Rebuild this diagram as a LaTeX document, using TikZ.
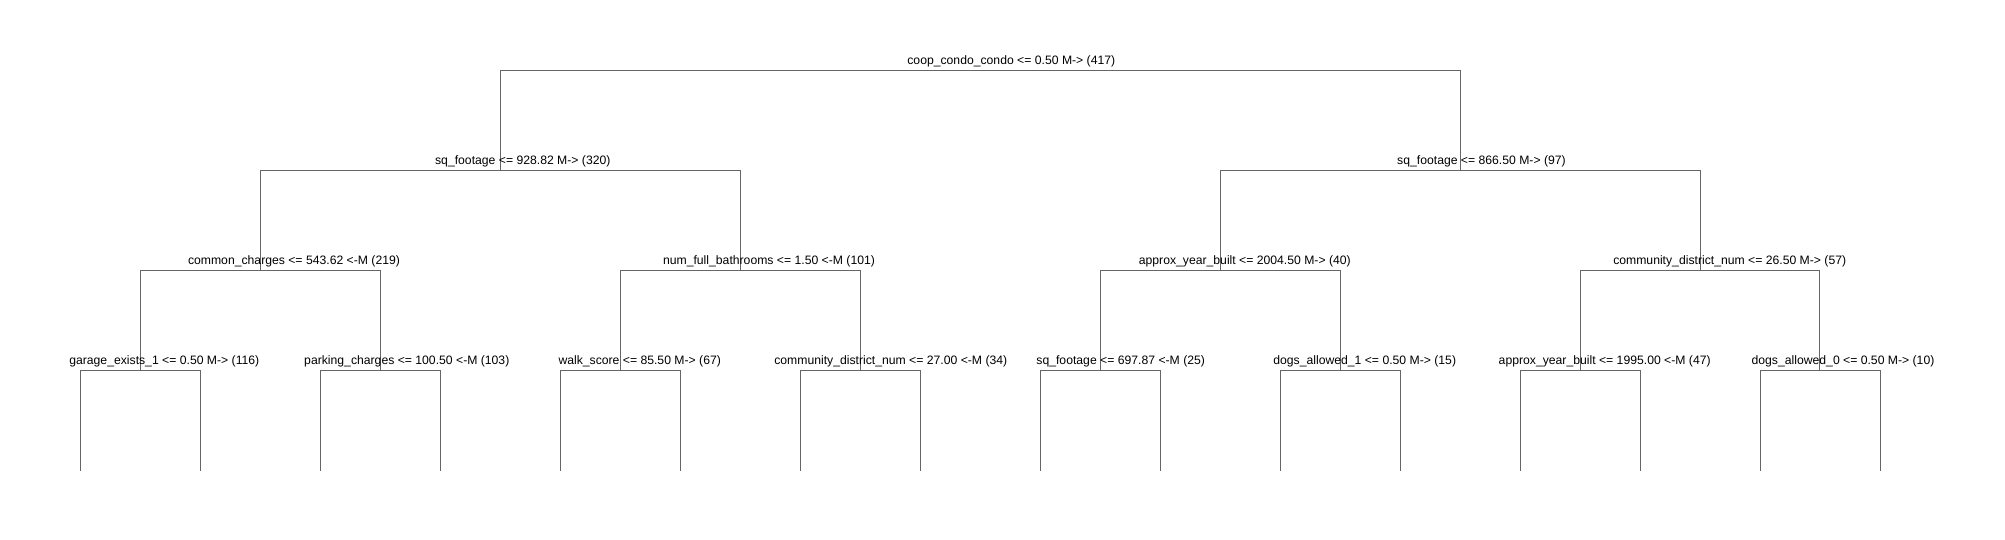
\documentclass[tikz,border=0pt]{standalone}
\usepackage{fontspec}
\setmainfont{Liberation Sans}
\usepackage{tikz}
\tikzstyle{node:split}=[coordinate]
\tikzstyle{node:leaf}=[coordinate]
\tikzstyle{node:test}=[anchor=base,inner sep=0pt,text=black,font=\fontsize{12.2pt}{14pt}\selectfont]
\tikzstyle{draw:branch}=[line width=1pt,draw=black!60]

\begin{document}
\begin{tikzpicture}[x=1pt,y=-1pt]
        \useasboundingbox (0,0) rectangle (2005,540);

        % Root split
        \node[node:split] (N1-1) at (980,70.7) {};

        % Second level (2 splits)
        \node[node:split] (N2-1) at (500,170.7) {};
        \node[node:split] (N2-2) at (1460,170.7) {};

        % Third level (4 splits)
        \node[node:split] (N3-1) at (260,270.7) {};
        \node[node:split] (N3-2) at (740,270.7) {};
        \node[node:split] (N3-3) at (1220,270.7) {};
        \node[node:split] (N3-4) at (1700,270.7) {};

        % Fourth level (8 splits)
        \node[node:split] (N4-1) at (140,370.7) {};
        \node[node:split] (N4-2) at (380,370.7) {};
        \node[node:split] (N4-3) at (620,370.7) {};
        \node[node:split] (N4-4) at (860,370.7) {};
        \node[node:split] (N4-5) at (1100,370.7) {};
        \node[node:split] (N4-6) at (1340,370.7) {};
        \node[node:split] (N4-7) at (1580,370.7) {};
        \node[node:split] (N4-8) at (1819,370.7) {};

        % Leaves (16 ends)
        \foreach \k in {1,...,16} {
                \node[node:leaf] (N5-\k) at ({80+120*(\k-1)},470.7) {};
            }

        % branches from root to second level
        \foreach \j in {1,2} {
                \draw[draw:branch] (N1-1) -| (N2-\j);
            }

        % branches from second to third level
        \foreach \i in {1,2}
        \foreach \j in {1,2} {
                \pgfmathtruncatemacro\k{2*(\i-1)+\j}
                \draw[draw:branch] (N2-\i) -| (N3-\k);
            }

        % branches from third to fourth level
        \foreach \i in {1,...,4}
        \foreach \j in {1,2} {
                \pgfmathtruncatemacro\k{2*(\i-1)+\j}
                \draw[draw:branch] (N3-\i) -| (N4-\k);
            }

        % branches from fourth level to leaves
        \foreach \i in {1,...,8}
        \foreach \j in {1,2} {
                \pgfmathtruncatemacro\k{2*(\i-1)+\j}
                \draw[draw:branch] (N4-\i) -| (N5-\k);
            }

        % Labels
        \node[node:test] (T1-1) at (1011.3,64.2) {coop\_condo\_condo <= 0.50 M-> (417)};
        \node[node:test] (T2-1) at (522.8,164.2) {sq\_footage <= 928.82 M-> (320)};
        \node[node:test] (T2-2) at (1481.5,164.2) {sq\_footage <= 866.50 M-> (97)};
        \node[node:test] (T3-1) at (294,264.2) {common\_charges <= 543.62 <-M (219)};
        \node[node:test] (T3-2) at (769,264.2) {num\_full\_bathrooms <= 1.50 <-M (101)};
        \node[node:test] (T3-3) at (1244.8,264.2) {approx\_year\_built <= 2004.50 M-> (40)};
        \node[node:test] (T3-4) at (1729.7,264.2) {community\_district\_num <= 26.50 M-> (57)};
        \node[node:test] (T4-1) at (164.3,364.2) {garage\_exists\_1 <= 0.50 M-> (116)};
        \node[node:test] (T4-2) at (406.8,364.2) {parking\_charges <= 100.50 <-M (103)};
        \node[node:test] (T4-3) at (639.7,364.2) {walk\_score <= 85.50 M-> (67)};
        \node[node:test] (T4-4) at (890.8,364.2) {community\_district\_num <= 27.00 <-M (34)};
        \node[node:test] (T4-5) at (1120.7,364.2) {sq\_footage <= 697.87 <-M (25)};
        \node[node:test] (T4-6) at (1364.7,364.2) {dogs\_allowed\_1 <= 0.50 M-> (15)};
        \node[node:test] (T4-7) at (1604.7,364.2) {approx\_year\_built <= 1995.00 <-M (47)};
        \node[node:test] (T4-8) at (1843,364.2) {dogs\_allowed\_0 <= 0.50 M-> (10)};

    \end{tikzpicture}
\end{document}
